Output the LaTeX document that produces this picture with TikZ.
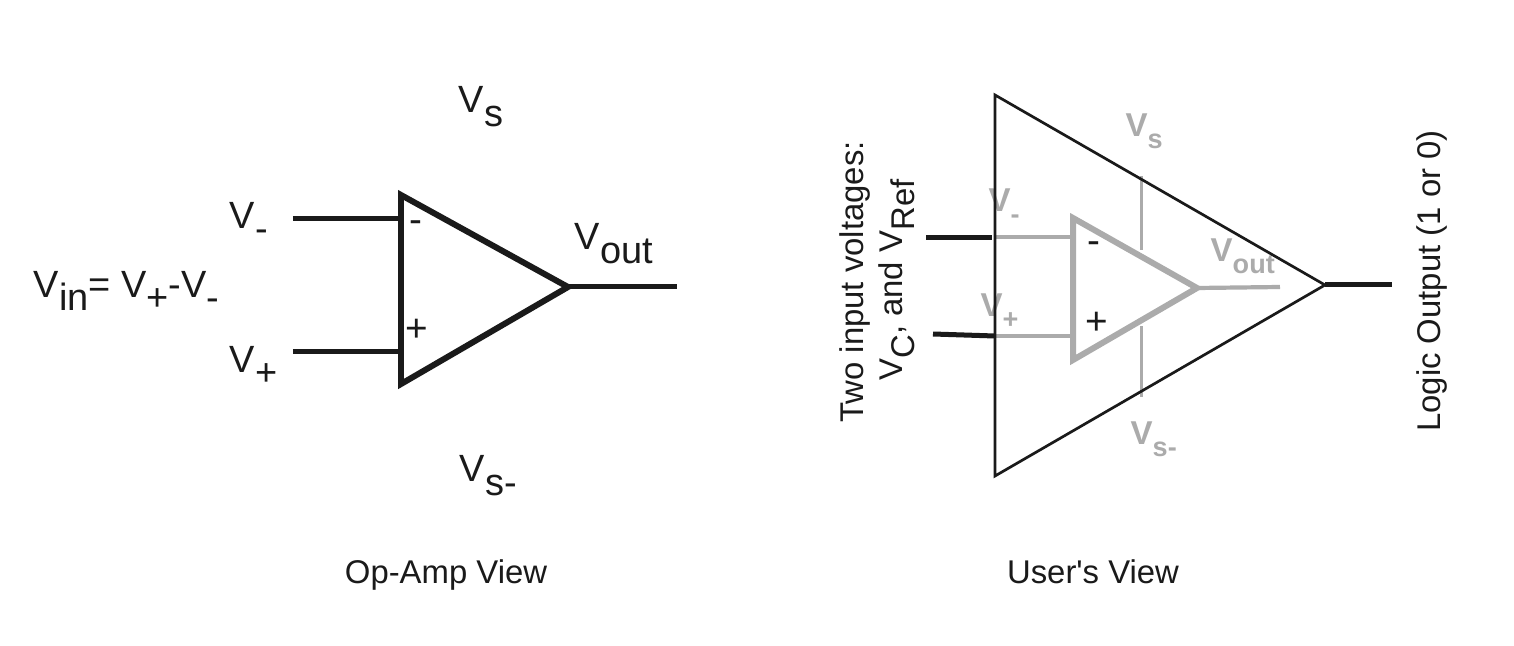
\documentclass[tikz,border=0pt]{standalone}
\usepackage{fontspec}
\setmainfont{Liberation Sans}
\usepackage{tikz}
\definecolor{ink}{HTML}{1A1A1A}
\definecolor{ghost}{HTML}{ABABAB}
\newcommand{\lowtxt}[1]{\raisebox{-0.36em}{#1}}
\newcommand{\ghostlow}[1]{\raisebox{-0.34em}{\fontsize{7.7}{9}\selectfont #1}}
\tikzset{
  every picture/.style={line join=miter, line cap=butt},
  biglabel/.style={anchor=base west, inner sep=0pt, text=ink, font=\fontsize{10.8}{12}\selectfont},
  caption/.style={anchor=base, inner sep=0pt, text=ink, font=\fontsize{9.35}{11}\selectfont},
  sidetext/.style={anchor=base, inner sep=0pt, rotate=90, text=ink, font=\fontsize{9.35}{11}\selectfont},
  ghostlabel/.style={anchor=base west, inner sep=0pt, text=ghost, font=\fontsize{9.4}{11}\selectfont\bfseries},
  sign/.style={inner sep=0pt, text=ink, font=\fontsize{11}{12}\selectfont},
  wire/.style={ink, line width=0.05cm},
  ampedge/.style={ink, line width=0.06cm},
  outeredge/.style={ink, line width=0.027cm},
  ghostedge/.style={ghost, line width=0.06cm},
  ghostwire/.style={ghost, line width=0.042cm},
  ghostrail/.style={ghost, line width=0.03cm},
}

\begin{document}
\begin{tikzpicture}
\useasboundingbox (0,0) rectangle (15.14,6.46);
% op-amp view
\coordinate (lt) at (4.01,4.51);
\coordinate (lb) at (4.01,2.62);
\coordinate (la) at (5.68,3.59);
\coordinate (lm) at (2.93,4.27);
\coordinate (lmin) at (4.01,4.27);
\coordinate (lp) at (2.93,2.94);
\coordinate (lpin) at (4.01,2.94);
\coordinate (lo) at (6.77,3.59);
\draw[wire] (lm)--(lmin);
\draw[wire] (lp)--(lpin);
\draw[wire] (la)--(lo);
\draw[ampedge] (lt)--(lb)--(la)--cycle;
\node[sign] (lminus) at (4.16,4.19) {-};
\node[sign] (lplus) at (4.17,3.16) {+};
\node[biglabel] (lvs) at (4.58,5.33) {V\lowtxt{s}};
\node[biglabel] (lvm) at (2.29,4.18) {V\lowtxt{-}};
\node[biglabel] (lvp) at (2.29,2.74) {V\lowtxt{+}};
\node[biglabel] (lvo) at (5.74,3.96) {V\lowtxt{out}};
\node[biglabel] (lvn) at (4.59,1.64) {V\lowtxt{s-}};
\node[biglabel] (lvi) at (0.33,3.49) {V\lowtxt{in}= V\lowtxt{+}-V\lowtxt{-}};
\node[caption] (lcap) at (4.46,0.62) {Op-Amp View};
% user's view, grey part first
\node[ghostlabel] (gvs) at (11.25,5.09) {V\ghostlow{s}};
\node[ghostlabel] (gvm) at (9.88,4.34) {V\ghostlow{-}};
\node[ghostlabel] (gvp) at (9.80,3.29) {V\ghostlow{+}};
\node[ghostlabel] (gvo) at (12.10,3.84) {V\ghostlow{out}};
\node[ghostlabel] (gvn) at (11.30,2.01) {V\ghostlow{s-}};
\coordinate (gt) at (10.73,4.28);
\coordinate (gb) at (10.73,2.86);
\coordinate (ga) at (11.97,3.58);
\coordinate (gmin) at (10.73,4.09);
\coordinate (gpin) at (10.73,3.10);
\coordinate (gmo) at (9.95,4.09);
\coordinate (gpo) at (9.95,3.10);
\coordinate (go) at (12.80,3.59);
\coordinate (gup) at (11.41,4.70);
\coordinate (gupe) at (11.41,3.96);
\coordinate (gdn) at (11.41,2.49);
\coordinate (gdne) at (11.41,3.20);
\draw[ghostrail] (gup)--(gupe);
\draw[ghostrail] (gdn)--(gdne);
\draw[ghostwire] (gmo)--(gmin);
\draw[ghostwire] (gpo)--(gpin);
\draw[ghostwire] (ga)--(go);
\draw[ghostedge] (gt)--(gb)--(ga)--cycle;
\node[sign] (gminus) at (10.94,3.98) {-};
\node[sign] (gplus) at (10.97,3.23) {+};
% user's view, black part
\coordinate (ot) at (9.95,5.51);
\coordinate (ob) at (9.95,1.70);
\coordinate (oa) at (13.25,3.61);
\coordinate (um) at (9.26,4.08);
\coordinate (umin) at (9.92,4.08);
\coordinate (up) at (9.33,3.12);
\coordinate (upin) at (9.95,3.10);
\coordinate (uo) at (13.92,3.61);
\draw[wire] (um)--(umin);
\draw[wire] (up)--(upin);
\draw[wire] (oa)--(uo);
\draw[outeredge] (ot)--(ob)--(oa)--cycle;
\node[sidetext] (utwo) at (8.63,3.64) {Two input voltages:};
\node[sidetext] (uvolt) at (9.03,3.66) {V\lowtxt{C}, and V\lowtxt{Ref}};
\node[sidetext] (ulogic) at (14.40,3.65) {Logic Output (1 or 0)};
\node[caption] (ucap) at (10.93,0.62) {User\textquotesingle s View};
\end{tikzpicture}
\end{document}
